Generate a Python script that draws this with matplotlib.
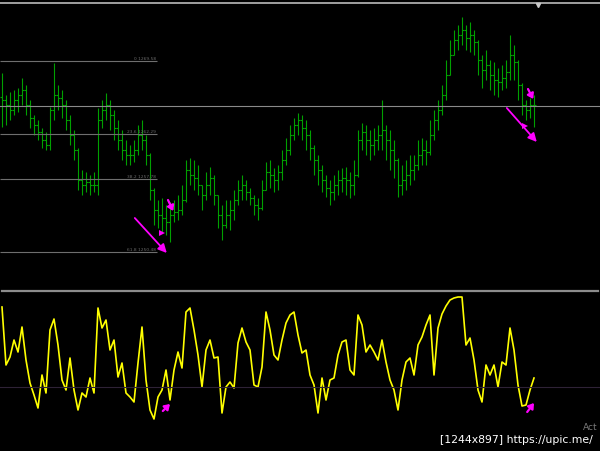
import matplotlib
matplotlib.use("Agg")
import matplotlib.pyplot as plt
from matplotlib.lines import Line2D
import numpy as np

# ---------------- data ----------------
highs = [1268.4,1266.2,1266.5,1266.7,1266.9,1267.9,1267.2,1265.7,1264.2,1263.7,
1262.9,1262.5,1265.0,1269.4,1267.2,1266.7,1265.7,1264.2,1262.7,1260.9,
1258.7,1258.5,1258.2,1258.5,1264.9,1265.7,1266.4,1265.7,1264.7,1263.7,
1262.7,1261.7,1261.2,1261.7,1263.2,1263.7,1262.2,1260.4,1256.9,1255.7,
1255.9,1255.2,1255.5,1255.7,1256.2,1257.2,1259.7,1259.9,1259.7,1259.2,
1257.2,1258.5,1259.0,1258.2,1256.2,1255.2,1255.7,1255.7,1256.7,1257.7,
1258.2,1257.7,1256.9,1256.2,1255.9,1257.7,1259.5,1259.7,1258.9,1259.2,
1260.7,1261.9,1263.2,1263.9,1264.4,1264.2,1263.7,1262.7,1261.2,1260.2,
1259.2,1258.2,1257.7,1258.2,1258.7,1258.9,1259.0,1258.5,1259.7,1262.7,
1263.4,1263.2,1262.7,1262.9,1263.2,1265.7,1263.2,1262.7,1261.7,1259.9,
1259.2,1259.7,1260.2,1260.2,1261.7,1261.9,1261.7,1263.7,1264.7,1265.7,
1267.2,1269.7,1271.7,1272.7,1273.2,1274.0,1273.2,1273.5,1272.7,1271.7,
1270.2,1270.7,1269.7,1269.5,1268.9,1269.2,1269.7,1272.2,1271.2,1269.7,
1267.4,1265.7,1265.9,1266.2]

lows = [1263.0,1263.2,1263.7,1264.2,1264.5,1265.2,1264.2,1262.9,1262.2,1261.7,
1260.9,1260.7,1260.7,1263.7,1264.7,1263.9,1262.7,1261.2,1259.7,1256.7,
1256.2,1256.5,1256.2,1256.5,1256.2,1262.9,1263.7,1262.7,1261.7,1260.7,
1259.7,1259.2,1259.2,1259.5,1260.2,1260.7,1259.2,1255.7,1253.2,1252.9,
1252.5,1252.2,1251.5,1253.5,1253.7,1254.2,1255.5,1257.2,1256.7,1256.2,
1254.7,1255.7,1256.2,1255.2,1252.9,1251.7,1252.9,1252.7,1253.7,1255.2,
1255.7,1255.7,1255.2,1254.2,1253.7,1254.7,1256.7,1256.9,1256.5,1256.7,
1257.7,1259.2,1260.2,1261.7,1262.2,1261.7,1260.7,1259.7,1258.2,1257.2,
1256.5,1256.0,1255.2,1255.7,1256.2,1256.5,1256.2,1255.9,1256.2,1258.0,
1260.7,1260.2,1259.7,1260.2,1260.7,1260.7,1259.7,1258.7,1257.9,1256.0,
1256.2,1256.7,1257.2,1257.7,1258.7,1259.2,1259.2,1260.2,1261.7,1262.7,
1264.2,1265.7,1268.2,1270.2,1270.7,1271.2,1270.7,1270.5,1270.2,1268.2,
1266.9,1267.7,1266.7,1266.2,1266.0,1266.7,1266.9,1267.7,1267.7,1265.7,
1264.2,1263.7,1263.9,1263.0]

opens = [1266.0,1265.7,1265.2,1264.7,1265.7,1266.2,1266.7,1265.2,1263.9,1263.2,
1262.5,1261.7,1261.2,1264.7,1266.2,1265.9,1265.2,1263.7,1262.2,1260.7,
1257.7,1257.2,1257.5,1257.2,1257.2,1263.7,1264.7,1265.2,1264.2,1262.9,
1261.7,1260.7,1260.2,1260.2,1260.7,1262.2,1261.7,1260.2,1256.7,1254.7,
1254.2,1253.9,1253.5,1254.2,1254.5,1254.7,1255.7,1258.7,1258.2,1257.9,
1257.2,1256.2,1257.2,1257.9,1256.2,1254.2,1253.2,1254.2,1254.7,1255.7,
1256.7,1257.2,1256.5,1255.9,1255.2,1254.9,1256.7,1258.5,1258.2,1257.7,
1258.5,1259.7,1260.7,1262.2,1263.2,1263.7,1262.9,1262.2,1260.9,1259.7,
1258.7,1257.7,1256.9,1256.5,1257.2,1257.7,1257.9,1257.7,1257.2,1258.2,
1261.7,1262.5,1261.7,1261.2,1261.7,1262.2,1262.7,1261.7,1260.7,1259.7,
1257.2,1257.7,1258.2,1258.7,1259.2,1260.2,1260.7,1260.5,1262.2,1263.7,
1264.7,1266.2,1268.2,1270.2,1271.7,1272.2,1272.7,1271.9,1272.2,1271.5,
1269.7,1268.7,1269.2,1268.2,1267.7,1267.5,1267.9,1268.5,1270.2,1269.5,
1267.2,1265.2,1264.7,1265.2]

closes = [1265.7,1265.2,1264.7,1265.7,1266.2,1266.7,1265.2,1263.9,1263.2,1262.5,
1261.7,1261.2,1264.7,1266.2,1265.9,1265.2,1263.7,1262.2,1260.7,1257.7,
1257.2,1257.5,1257.2,1257.2,1263.7,1264.7,1265.2,1264.2,1262.9,1261.7,
1260.7,1260.2,1260.2,1260.7,1262.2,1261.7,1260.2,1256.7,1254.7,1254.2,
1253.9,1253.5,1254.2,1254.5,1254.7,1255.7,1258.7,1258.2,1257.9,1257.2,
1256.2,1257.2,1257.9,1256.2,1254.2,1253.2,1254.2,1254.7,1255.7,1256.7,
1257.2,1256.5,1255.9,1255.2,1254.9,1256.7,1258.5,1258.2,1257.7,1258.5,
1259.7,1260.7,1262.2,1263.2,1263.7,1262.9,1262.2,1260.9,1259.7,1258.7,
1257.7,1256.9,1256.5,1257.2,1257.7,1257.9,1257.7,1257.2,1258.2,1261.7,
1262.5,1261.7,1261.2,1261.7,1262.2,1262.7,1261.7,1260.7,1259.7,1257.2,
1257.7,1258.2,1258.7,1259.2,1260.2,1260.7,1260.5,1262.2,1263.7,1264.7,
1266.2,1268.2,1270.2,1271.7,1272.2,1272.7,1271.9,1272.2,1271.5,1269.7,
1268.7,1269.2,1268.2,1267.7,1267.5,1267.9,1268.5,1270.2,1269.5,1267.2,
1265.2,1264.7,1265.2,1265.2]

osc = [113,55,63,80,68,93,60,37,25,12,
45,27,90,101,75,40,30,62,30,10,
27,23,42,27,112,92,100,70,80,43,
57,27,23,18,57,93,40,10,1,23,
30,50,20,50,68,52,108,112,90,65,
33,70,80,62,63,7,33,38,32,77,
92,78,70,35,33,53,108,90,65,60,
80,97,105,108,85,67,70,45,35,7,
42,20,40,42,65,78,80,50,45,105,
95,68,75,68,60,80,58,40,30,10,
40,58,62,45,75,83,95,105,45,92,
106,114,120,122,123,123,75,82,60,30,
18,55,45,55,33,58,55,92,70,35,
14,15,30,42]
osc_level = 33

fib_high = 1269.58
fib_low = 1238.68
fib_ratios = [0.0, 23.6, 38.2, 61.8]
fib_end_bar = 38.8
bid_price = 1265.1

# divergence annotations (bar index, price)
price_arrows = [((33.2, 1253.9), (41.2, 1250.4)), ((126.2, 1264.9), (133.7, 1261.5))]
price_small_arrows = [((41.5, 1255.7), (42.8, 1254.6)), ((131.5, 1266.8), (132.8, 1265.8))]
price_flags = [(40.0, 1252.4), (130.8, 1263.1)]
osc_small_arrows = [((40.2, 9), (42.0, 16)), ((131.3, 8), (133.0, 17))]

# ---------------- figure ----------------
W, H = 600, 451
fig = plt.figure(figsize=(6.0, 4.51), dpi=100, facecolor="black")

def fy(px):
    return 1 - px / H

ax = fig.add_axes([0, fy(287), 1, (287 - 4) / H], facecolor="black")
ax2 = fig.add_axes([0, fy(451), 1, (451 - 292) / H], facecolor="black")
for a in (ax, ax2):
    a.set_axis_off()
    a.set_xlim(-0.5, 149.5)

ax.set_ylim(1247.0, 1275.3)
ax2.set_ylim(-31, 128)

idx = np.arange(len(closes))
green = "#00a000"
ax.vlines(idx, lows, highs, color=green, lw=0.8)
ax.hlines(opens, idx - 0.45, idx, color=green, lw=0.8)
ax.hlines(closes, idx, idx + 0.45, color=green, lw=0.8)

# bid line
ax.axhline(bid_price, color="#8a8a8a", lw=0.8)

# fibonacci levels
rng = fib_high - fib_low
for r in fib_ratios:
    p = fib_high - rng * r / 100.0
    ax.hlines(p, -0.5, fib_end_bar, color="#6e6e6e", lw=0.8)
    lab = f"{r:g} {p:.2f}" if r else f"0 {p:.2f}"
    ax.text(fib_end_bar - 0.3, p + 0.05, lab, color="#6a6a6a", fontsize=3.2,
            ha="right", va="bottom")

mag = "#ff00ff"
for (s, e) in price_arrows:
    ax.annotate("", xy=e, xytext=s,
                arrowprops=dict(arrowstyle="-|>,head_length=0.5,head_width=0.25",
                                color=mag, lw=1.3, shrinkA=0, shrinkB=0))
for (s, e) in price_small_arrows:
    ax.annotate("", xy=e, xytext=s,
                arrowprops=dict(arrowstyle="-|>,head_length=0.3,head_width=0.2",
                                color=mag, lw=1.6, shrinkA=0, shrinkB=0))
for (bx, p) in price_flags:
    ax.plot([bx], [p], marker=">", color=mag, markersize=4, mew=0)

# oscillator
ax2.plot(idx, osc, color="#ffff00", lw=1.2, solid_joinstyle="round")
ax2.axhline(osc_level, color="#2e2236", lw=0.8)
for (s, e) in osc_small_arrows:
    ax2.annotate("", xy=e, xytext=s,
                 arrowprops=dict(arrowstyle="-|>,head_length=0.3,head_width=0.2",
                                 color=mag, lw=1.6, shrinkA=0, shrinkB=0))

# window frame lines
fig.add_artist(Line2D([0, 1], [fy(3), fy(3)], color="#a0a0a0", lw=1.4))
fig.add_artist(Line2D([2 / W, 598 / W], [fy(290.5), fy(290.5)], color="#8c8c8c", lw=1.6))
fig.add_artist(Line2D([538 / W], [fy(5)], marker="v", color="#c8c8c8", markersize=3, lw=0))

fig.text(583 / W, fy(427), "Act", color="#7a7a7a", fontsize=6.5, ha="left", va="center")
fig.text(440 / W, fy(440), "[1244x897] https://upic.me/", color="white", fontsize=7.8,
         ha="left", va="center")

fig.savefig("out.png", dpi=100, facecolor="black")
